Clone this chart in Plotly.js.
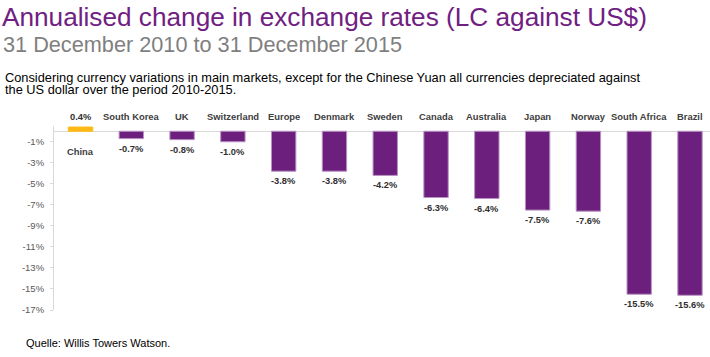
<!DOCTYPE html>
<html>
<head>
<meta charset="utf-8">
<script src="https://cdn.plot.ly/plotly-3.0.1.min.js"></script>
<style>html,body{margin:0;padding:0;background:#fff;}#chart{width:710px;height:357px;}</style>
</head>
<body>
<div id="chart"></div>
<script>
const categories = ["China","South Korea","UK","Switzerland","Europe","Denmark","Sweden","Canada","Australia","Japan","Norway","South Africa","Brazil"];
const values = [0.4,-0.7,-0.8,-1.0,-3.8,-3.8,-4.2,-6.3,-6.4,-7.5,-7.6,-15.5,-15.6];
const tickVals = [-1,-3,-5,-7,-9,-11,-13,-15,-17];
const tickText = ["-1%","-3%","-5%","-7%","-9%","-11%","-13%","-15%","-17%"];

const W = 710, H = 357;
const M = {l:54, r:0, t:126, b:47};
const PW = W - M.l - M.r, PH = H - M.t - M.b;
const FONT = "Arial, 'Liberation Sans', sans-serif";
const purple = "#6C1F7D", orange = "#FFB915";

function px2x(px){ return (px - M.l)/PW; }
function py2y(py){ return (H - M.b - py)/PH; }

const idx = categories.map((c,i)=>i);
const trace = {
  type: "bar",
  x: idx,
  y: values,
  width: 0.48,
  marker: {
    color: values.map(v => v >= 0 ? orange : purple),
    line: {color: values.map(v => v >= 0 ? orange : "#b893c2"), width: 1}
  },
  hoverinfo: "skip"
};

const ann = [];
const lblFont = {family: FONT, size: 9.4, color: "#404040", weight: "bold"};
const valFont = {family: FONT, size: 9.3, color: "#303030", weight: "bold"};
values.forEach((v,i) => {
  const lab = v.toFixed(1) + "%";
  if (v >= 0) {
    ann.push({x:i, y:0, xref:"x", yref:"y", text:lab, showarrow:false, yanchor:"middle", yshift:14.5, font:valFont});
    ann.push({x:i, y:0, xref:"x", yref:"y", text:categories[i], showarrow:false, yanchor:"middle", yshift:-20.5, font:lblFont});
  } else {
    ann.push({x:i, y:0, xref:"x", yref:"y", text:categories[i], showarrow:false, yanchor:"middle", yshift:14.5, font:lblFont});
    ann.push({x:i, y:v, xref:"x", yref:"y", text:lab, showarrow:false, yanchor:"top", yshift:-3, font:valFont});
  }
});

ann.push({xref:"paper", yref:"paper", x:px2x(0), y:py2y(17), xanchor:"left", yanchor:"middle", showarrow:false,
  text:"Annualised change in exchange rates (LC against US$)", font:{family:FONT, size:26.2, color:"#702082"}});
ann.push({xref:"paper", yref:"paper", x:px2x(1), y:py2y(45), xanchor:"left", yanchor:"middle", showarrow:false,
  text:"31 December 2010 to 31 December 2015", font:{family:FONT, size:21.7, color:"#7f7f7f"}});
ann.push({xref:"paper", yref:"paper", x:px2x(3), y:py2y(77.5), xanchor:"left", yanchor:"middle", showarrow:false,
  text:"Considering currency variations in main markets, except for the Chinese Yuan all currencies depreciated against", font:{family:FONT, size:12.8, color:"#000"}});
ann.push({xref:"paper", yref:"paper", x:px2x(3), y:py2y(89), xanchor:"left", yanchor:"middle", showarrow:false,
  text:"the US dollar over the period 2010-2015.", font:{family:FONT, size:12.8, color:"#000"}});
ann.push({xref:"paper", yref:"paper", x:px2x(24), y:py2y(343), xanchor:"left", yanchor:"middle", showarrow:false,
  text:"Quelle: Willis Towers Watson.", font:{family:FONT, size:11, color:"#000"}});

const layout = {
  width: W, height: H,
  margin: M,
  paper_bgcolor: "#fff", plot_bgcolor: "#fff",
  showlegend: false,
  xaxis: {range:[-0.522, 12.394], showticklabels:false, showgrid:false, zeroline:false, showline:false, ticks:"", fixedrange:true},
  yaxis: {range:[-17, 0.5], tickvals:tickVals, ticktext:tickText, showgrid:false,
    zeroline:true, zerolinecolor:"#d9d9d9", zerolinewidth:1,
    showline:true, linecolor:"#d9d9d9", linewidth:1, ticks:"outside", ticklen:3, tickcolor:"#d9d9d9",
    tickfont:{family:FONT, size:9.5, color:"#595959"}, ticklabelstandoff:4},
  annotations: ann
};

Plotly.newPlot("chart", [trace], layout, {displayModeBar:false, staticPlot:true});
</script>
</body>
</html>
